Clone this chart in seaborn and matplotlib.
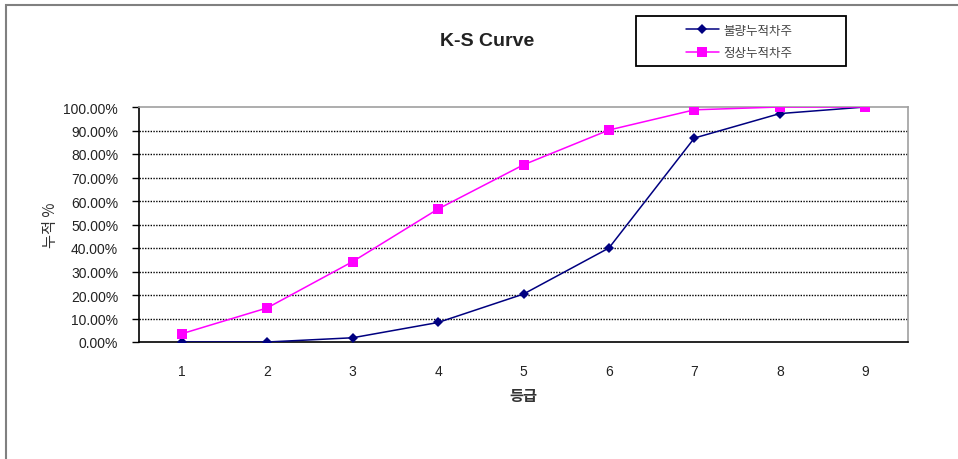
import numpy as np
import pandas as pd
import matplotlib
matplotlib.use("Agg")
import matplotlib.pyplot as plt
import matplotlib.patches as mpatches
from matplotlib.ticker import FixedLocator, PercentFormatter
import seaborn as sns

# data
grades = [1, 2, 3, 4, 5, 6, 7, 8, 9]
bad_cum = [0.0, 0.0, 1.8, 8.3, 20.4, 40.0, 86.8, 97.2, 100.0]
normal_cum = [3.5, 14.5, 34.2, 56.6, 75.4, 90.2, 98.8, 100.0, 100.0]
series_names = ["불량누적차주", "정상누적차주"]
yticks = [0, 10, 20, 30, 40, 50, 60, 70, 80, 90, 100]

df = pd.DataFrame({
    "등급": grades * 2,
    "누적": bad_cum + normal_cum,
    "구분": [series_names[0]] * len(grades) + [series_names[1]] * len(grades),
})

sns.set_style("white")
plt.rcParams["font.family"] = ["Liberation Sans", "Noto Sans CJK KR"]

fig = plt.figure(figsize=(9.58, 4.6), dpi=100)
ax = fig.add_axes([139 / 958, 1 - 343 / 460, (908 - 139) / 958, (343 - 108) / 460])

palette = {series_names[0]: "#000080", series_names[1]: "#FF00FF"}
markers = {series_names[0]: "D", series_names[1]: "s"}
sizes = {series_names[0]: 5.5, series_names[1]: 7.5}

for name in series_names:
    sub = df[df["구분"] == name]
    sns.lineplot(data=sub, x="등급", y="누적", ax=ax, color=palette[name],
                 marker=markers[name], markersize=sizes[name], markeredgewidth=0,
                 linewidth=1.1, label=name, legend=False, zorder=3)

ax.set_xlim(0.5, 9.5)
ax.set_ylim(0, 100)

# dotted grid on the value axis only
ax.yaxis.set_major_locator(FixedLocator(yticks))
ax.yaxis.set_major_formatter(PercentFormatter(decimals=2))
for v in yticks[1:-1]:
    ax.axhline(v, color="black", lw=1.0, ls=(0, (1, 1)), zorder=1)

ax.set_xticks(grades)
ax.set_xticklabels([str(g) for g in grades])
ax.xaxis.set_minor_locator(FixedLocator(np.arange(1.5, 9.0, 1.0)))
ax.tick_params(axis="x", which="major", length=0, pad=16, labelsize=10, colors="#222222")
ax.tick_params(axis="x", which="minor", length=5, width=1, direction="in", color="black")
ax.tick_params(axis="y", which="major", length=5, width=1, direction="out", pad=10,
               labelsize=10, color="black", labelcolor="#222222", left=True)

for side in ["left", "bottom"]:
    ax.spines[side].set_color("black")
    ax.spines[side].set_linewidth(1.2)
for side in ["top", "right"]:
    ax.spines[side].set_color("#a0a0a0")
    ax.spines[side].set_linewidth(1.2)

ax.set_xlabel("등급", family=["Noto Sans CJK KR"], fontsize=11, color="#333333",
              fontweight="bold", labelpad=6)
ax.set_ylabel("누적 %", family=["Noto Sans CJK KR", "DejaVu Sans"], fontsize=11,
              color="#333333", labelpad=3)

fig.text(487 / 958, 1 - 42 / 460, "K-S Curve", family=["Liberation Sans"], fontsize=14,
         fontweight="bold", ha="center", va="center", color="#222222")

# outer chart border (clipped at right/bottom like the reference)
fig.patches.append(mpatches.Rectangle((6 / 958, -0.1), 1.2, 1 - 6 / 460 + 0.1,
                                      transform=fig.transFigure, fill=False,
                                      edgecolor="#808080", lw=1.5))

# legend box
fig.patches.append(mpatches.Rectangle((636 / 958, 1 - 67 / 460), 210 / 958, 50 / 460,
                                      transform=fig.transFigure, fill=False,
                                      edgecolor="black", lw=1.3))
handles, labels = ax.get_legend_handles_labels()
leg = fig.legend(handles, labels, loc="center left",
                 bbox_to_anchor=(686 / 958, 1 - 42.5 / 460), frameon=False,
                 handlelength=2.6, handletextpad=0.4, labelspacing=0.75, borderpad=0,
                 prop={"family": ["Noto Sans CJK KR"], "size": 9}, borderaxespad=0)
for t in leg.get_texts():
    t.set_color("#444444")

fig.savefig("out.png", dpi=100)
